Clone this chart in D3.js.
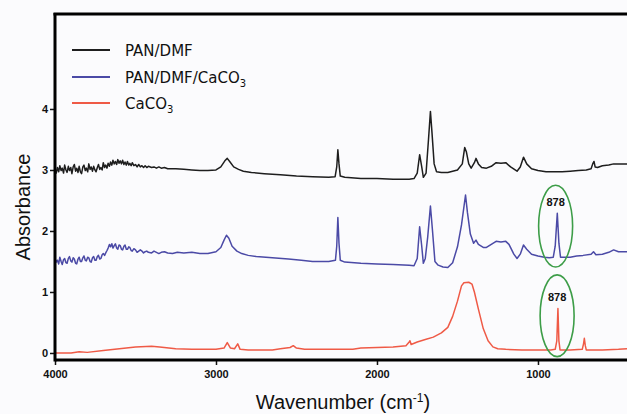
<!DOCTYPE html>
<html><head><meta charset="utf-8">
<script src="https://cdn.jsdelivr.net/npm/d3@7"></script>
<style>
html,body{margin:0;padding:0;background:#fbfbfd;}
svg{display:block;}
</style></head>
<body>
<svg id="chart" width="627" height="414"></svg>
<script>
// ---- data: [wavenumber (cm-1), absorbance] ----
const panDmf = [
[4000,3.02],[3992,2.95],[3985,3.04],[3977,2.97],[3970,3.07],[3962,2.99],[3955,3.03],[3947,2.95],[3940,3.08],[3932,3.00],
[3925,2.96],[3917,3.06],[3910,2.99],[3902,3.04],[3895,2.94],[3887,3.05],[3880,3.09],[3872,2.98],[3865,3.03],[3857,2.96],
[3850,3.06],[3842,2.97],[3835,2.94],[3827,3.05],[3820,3.08],[3812,2.99],[3805,3.03],[3797,2.97],[3790,3.10],[3782,3.01],
[3775,3.05],[3767,2.98],[3760,3.06],[3752,3.00],[3745,2.97],[3737,3.04],[3730,3.09],[3722,3.01],[3715,3.04],[3707,3.00],
[3700,3.12],[3692,3.04],[3685,3.08],[3677,3.03],[3670,3.11],[3662,3.06],[3655,3.13],[3647,3.08],[3640,3.16],[3632,3.10],
[3625,3.14],[3617,3.09],[3610,3.17],[3602,3.11],[3595,3.15],[3587,3.10],[3580,3.16],[3572,3.09],[3565,3.13],[3557,3.08],
[3550,3.14],[3542,3.08],[3535,3.11],[3527,3.07],[3520,3.12],[3510,3.07],[3500,3.09],[3490,3.05],[3480,3.09],[3470,3.05],
[3460,3.07],[3450,3.04],[3440,3.07],[3430,3.04],[3420,3.06],[3400,3.04],[3385,3.05],[3370,3.03],[3355,3.05],[3340,3.03],
[3320,3.04],[3300,3.02],[3250,3.02],[3200,3.01],[3150,3.00],[3100,2.99],[3050,2.99],[3000,3.00],[2970,3.05],[2945,3.15],
[2930,3.19],[2915,3.14],[2890,3.05],[2860,3.01],[2830,2.98],[2780,2.96],[2700,2.94],[2600,2.92],[2500,2.90],[2400,2.89],
[2300,2.88],[2260,2.89],[2250,3.05],[2243,3.33],[2236,3.10],[2228,2.90],[2200,2.88],[2100,2.86],[2000,2.86],[1900,2.85],
[1800,2.85],[1770,2.86],[1750,2.95],[1735,3.25],[1722,3.05],[1712,2.88],[1695,2.95],[1680,3.50],[1668,3.96],[1658,3.60],
[1645,3.10],[1630,2.97],[1600,2.96],[1560,2.96],[1500,3.00],[1470,3.10],[1455,3.37],[1445,3.30],[1430,3.10],[1415,3.03],
[1395,3.12],[1385,3.19],[1370,3.10],[1350,3.04],[1320,3.03],[1290,3.06],[1260,3.12],[1230,3.11],[1200,3.12],[1170,3.05],
[1130,2.98],[1110,3.05],[1090,3.21],[1070,3.10],[1040,3.02],[1000,2.99],[950,2.97],[900,2.97],[850,2.97],[800,2.98],
[750,2.99],[700,3.00],[670,3.02],[660,3.10],[652,3.14],[645,3.05],[630,3.04],[600,3.07],[560,3.08],[530,3.10],[500,3.10],[447,3.10]
];
const panDmfCaco3 = [
[4000,1.55],[3992,1.49],[3985,1.52],[3977,1.46],[3970,1.57],[3962,1.50],[3955,1.45],[3947,1.53],[3940,1.55],[3932,1.48],
[3925,1.47],[3917,1.55],[3910,1.58],[3902,1.51],[3895,1.49],[3887,1.56],[3880,1.54],[3872,1.47],[3865,1.46],[3857,1.54],
[3850,1.57],[3842,1.50],[3835,1.50],[3827,1.56],[3820,1.59],[3812,1.52],[3805,1.51],[3797,1.57],[3790,1.56],[3782,1.50],
[3775,1.49],[3767,1.56],[3760,1.58],[3752,1.52],[3745,1.52],[3737,1.58],[3730,1.60],[3722,1.54],[3715,1.55],[3707,1.61],
[3700,1.63],[3692,1.60],[3685,1.64],[3677,1.68],[3670,1.72],[3662,1.78],[3655,1.74],[3647,1.79],[3640,1.72],[3632,1.76],
[3625,1.79],[3617,1.72],[3610,1.70],[3602,1.77],[3595,1.76],[3587,1.70],[3580,1.69],[3572,1.75],[3565,1.77],[3557,1.70],
[3550,1.70],[3542,1.74],[3535,1.73],[3527,1.68],[3520,1.67],[3510,1.71],[3500,1.69],[3490,1.65],[3480,1.67],[3470,1.69],
[3460,1.67],[3450,1.64],[3440,1.66],[3430,1.67],[3420,1.65],[3400,1.64],[3385,1.67],[3370,1.65],[3355,1.63],[3340,1.65],
[3320,1.66],[3300,1.64],[3270,1.63],[3240,1.65],[3200,1.64],[3150,1.65],[3100,1.63],[3050,1.63],[3000,1.66],[2970,1.73],
[2950,1.85],[2935,1.93],[2920,1.88],[2900,1.75],[2870,1.67],[2840,1.63],[2800,1.60],[2750,1.58],[2650,1.56],[2550,1.54],
[2470,1.52],[2400,1.50],[2300,1.50],[2258,1.52],[2250,1.75],[2243,2.22],[2236,1.80],[2228,1.52],[2200,1.49],[2100,1.47],
[2000,1.46],[1900,1.45],[1800,1.44],[1770,1.43],[1750,1.55],[1735,2.07],[1722,1.75],[1712,1.47],[1700,1.55],[1685,1.90],
[1668,2.41],[1655,2.00],[1640,1.50],[1620,1.44],[1590,1.41],[1560,1.40],[1530,1.48],[1500,1.74],[1475,2.10],[1450,2.59],
[1438,2.30],[1420,1.95],[1400,1.80],[1385,1.85],[1370,1.78],[1340,1.73],[1320,1.73],[1290,1.78],[1260,1.83],[1230,1.82],
[1200,1.83],[1180,1.78],[1150,1.62],[1130,1.55],[1110,1.62],[1090,1.77],[1070,1.70],[1040,1.62],[1000,1.59],[960,1.57],
[930,1.56],[905,1.57],[893,1.75],[880,2.29],[870,1.80],[860,1.57],[830,1.57],[800,1.57],[760,1.59],[720,1.60],[670,1.62],
[655,1.66],[640,1.61],[600,1.62],[560,1.65],[530,1.69],[500,1.66],[447,1.66]
];
const caco3 = [
[4000,0.00],[3900,0.00],[3850,0.02],[3800,0.01],[3700,0.04],[3600,0.07],[3500,0.10],[3400,0.11],[3350,0.10],[3250,0.07],
[3150,0.06],[3000,0.06],[2950,0.08],[2930,0.17],[2910,0.08],[2885,0.07],[2865,0.15],[2850,0.06],[2800,0.05],[2650,0.05],
[2600,0.07],[2540,0.09],[2520,0.12],[2500,0.08],[2450,0.06],[2300,0.06],[2150,0.06],[2100,0.08],[2000,0.09],[1900,0.10],
[1820,0.12],[1800,0.18],[1795,0.20],[1788,0.14],[1750,0.18],[1700,0.22],[1650,0.26],[1600,0.33],[1560,0.42],[1530,0.60],
[1500,0.85],[1475,1.10],[1460,1.15],[1430,1.16],[1410,1.13],[1395,1.00],[1370,0.72],[1340,0.40],[1310,0.20],[1280,0.10],
[1250,0.07],[1200,0.06],[1100,0.05],[1000,0.05],[920,0.05],[893,0.06],[883,0.20],[876,0.73],[870,0.20],[863,0.05],
[800,0.05],[725,0.06],[717,0.15],[712,0.24],[706,0.12],[700,0.05],[600,0.05],[500,0.06],[447,0.07]
];
const seriesNames = ["PAN/DMF", "PAN/DMF/CaCO3", "CaCO3"];
const seriesColors = ["#1e1e1e", "#4b4aa6", "#ef5a46"];
const xTicks = [4000, 3000, 2000, 1000];
const yTicks = [0, 1, 2, 3, 4];
const peakLabel = "878";
const peakWn = 878;
const annotCenters = [2.08, 0.61];   // absorbance at ellipse centres
const annotLabelY = [2.47, 0.92];

// ---- layout ----
const svg = d3.select("#chart");
const x = d3.scaleLinear().domain([4000, 447]).range([55, 627]);
const y = d3.scaleLinear().domain([-0.115, 5.557]).range([360, 14]);

svg.append("rect").attr("width", 627).attr("height", 414).attr("fill", "#fbfbfd");

// lines
const line = d3.line().x(d => x(d[0])).y(d => y(d[1]));
[panDmf, panDmfCaco3, caco3].forEach((s, i) => {
  svg.append("path").datum(s).attr("d", line)
    .attr("fill", "none").attr("stroke", seriesColors[i])
    .attr("stroke-width", 1.5).attr("stroke-linejoin", "round");
});

// annotations (ellipses + label)
const ry = (y(0) - y(0.67));
annotCenters.forEach((c, i) => {
  svg.append("ellipse").attr("cx", x(peakWn) - 2 + i * 1.5).attr("cy", y(c))
    .attr("rx", 17).attr("ry", ry)
    .attr("fill", "none").attr("stroke", "#3d9d48").attr("stroke-width", 1.6);
  svg.append("text").attr("x", x(peakWn) - 2 + i * 1.5).attr("y", y(annotLabelY[i]) + 4)
    .attr("text-anchor", "middle").attr("font-family", "Liberation Sans, Arial, sans-serif")
    .attr("font-weight", "bold").attr("font-size", 11).attr("fill", "#111").text(peakLabel);
});

// axes
const xAxis = d3.axisBottom(x).tickValues(xTicks).tickSize(5).tickFormat(d3.format("d"));
const gx = svg.append("g").attr("transform", "translate(0,360)").call(xAxis);
gx.select(".domain").remove();
gx.selectAll("line").attr("stroke", "#111").attr("stroke-width", 1.5);
gx.selectAll("text").attr("font-family", "Liberation Sans, Arial, sans-serif")
  .attr("font-weight", "bold").attr("font-size", 11).attr("fill", "#111").attr("dy", "0.95em");

const yAxis = d3.axisLeft(y).tickValues(yTicks).tickSize(5).tickFormat(d3.format("d"));
const gy = svg.append("g").attr("transform", "translate(55,0)").call(yAxis);
gy.select(".domain").remove();
gy.selectAll("line").attr("stroke", "#111").attr("stroke-width", 1.5);
gy.selectAll("text").attr("font-family", "Liberation Sans, Arial, sans-serif")
  .attr("font-weight", "bold").attr("font-size", 11).attr("fill", "#111").attr("x", -7);

// frame lines
svg.append("line").attr("x1", 55).attr("x2", 627).attr("y1", 360).attr("y2", 360)
  .attr("stroke", "#000").attr("stroke-width", 3);
svg.append("line").attr("x1", 55).attr("x2", 55).attr("y1", 13).attr("y2", 361.5)
  .attr("stroke", "#000").attr("stroke-width", 3);
svg.append("line").attr("x1", 53.5).attr("x2", 627).attr("y1", 14).attr("y2", 14)
  .attr("stroke", "#000").attr("stroke-width", 3);

// axis titles
svg.append("text").attr("x", 343).attr("y", 409).attr("text-anchor", "middle")
  .attr("font-family", "Liberation Sans, Arial, sans-serif").attr("font-size", 20).attr("fill", "#111")
  .call(t => {
    t.append("tspan").text("Wavenumber (cm");
    t.append("tspan").attr("dy", -7).attr("font-size", 12).text("-1");
    t.append("tspan").attr("dy", 7).text(")");
  });
svg.append("text").attr("transform", "translate(30,207) rotate(-90)").attr("text-anchor", "middle")
  .attr("font-family", "Liberation Sans, Arial, sans-serif").attr("font-size", 20).attr("fill", "#111")
  .text("Absorbance");

// legend
const legY = [50, 77, 103];
seriesNames.forEach((n, i) => {
  svg.append("line").attr("x1", 72).attr("x2", 110).attr("y1", legY[i]).attr("y2", legY[i])
    .attr("stroke", seriesColors[i]).attr("stroke-width", 2);
  const t = svg.append("text").attr("x", 125).attr("y", legY[i] + 5.5)
    .attr("font-family", "DejaVu Sans, Verdana, sans-serif").attr("font-size", 15).attr("fill", "#111");
  const m = n.match(/^(.*?)(3)$/);
  if (m) {
    t.append("tspan").text(m[1]);
    t.append("tspan").attr("dy", 4).attr("font-size", 10).text(m[2]);
  } else t.text(n);
});
</script>
</body></html>
